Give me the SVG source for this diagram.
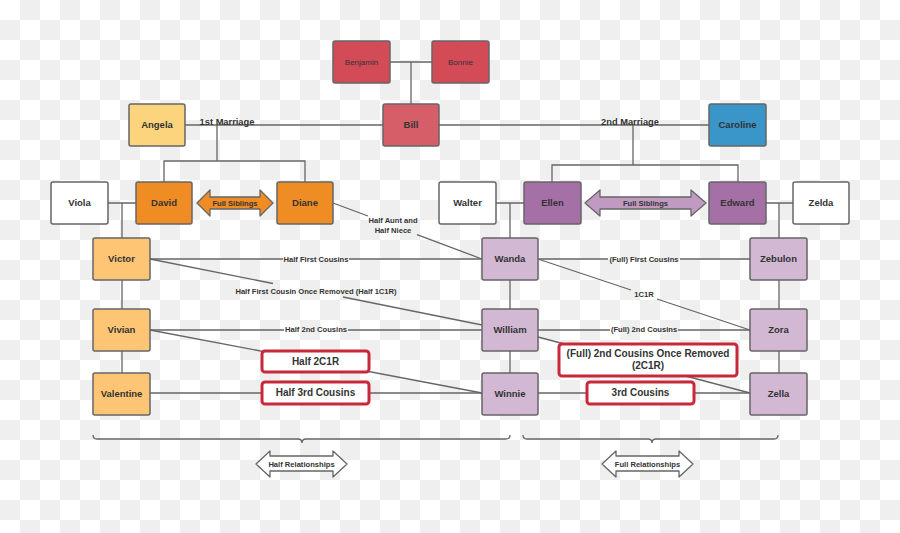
<svg xmlns="http://www.w3.org/2000/svg" width="900" height="533" viewBox="0 0 900 533">
<defs>
<pattern id="chk" x="0" y="0" width="40" height="40" patternUnits="userSpaceOnUse">
<rect width="40" height="40" fill="#ffffff"/>
<rect x="20" y="0" width="20" height="20" fill="#efefef"/>
<rect x="0" y="20" width="20" height="20" fill="#efefef"/>
</pattern>
<style>
.n{stroke:#666;stroke-width:1.5}
.t{font-family:"Liberation Sans",Arial,sans-serif;font-weight:bold;font-size:9.5px;fill:#333;text-anchor:middle}
.s{font-family:"Liberation Sans",Arial,sans-serif;font-size:8px;fill:#333;text-anchor:middle}
.l{font-family:"Liberation Sans",Arial,sans-serif;font-weight:bold;font-size:7.6px;fill:#333;text-anchor:middle}
.b{font-family:"Liberation Sans",Arial,sans-serif;font-weight:bold;font-size:10px;fill:#333;text-anchor:middle}
.c{fill:none;stroke:#666;stroke-width:1.3}
.rb{fill:#fff;stroke:#c8283a;stroke-width:3}
.red{fill:#d24b57}.bill{fill:#d65e68}.ang{fill:#fcd47e}.car{fill:#3a95c9}.org{fill:#ef8d24}.lor{fill:#fec575}.pur{fill:#a570a6}.lpu{fill:#d2b8d2}.wh{fill:#fff}
</style>
</defs>
<rect width="900" height="533" fill="url(#chk)"/>

<g id="connectors">
<path class="c" d="M390,62H432M411,62V104"/>
<path class="c" d="M185,125H709"/>
<path class="c" d="M217,125V161M164,182V161H305V182"/>
<path class="c" d="M633,125V165M552,182V165H738V182"/>
<path class="c" d="M108,203H136M122,203V238M122,280V309M122,351V373"/>
<path class="c" d="M496,203H524M510,203V238M510,280V309M510,351V373"/>
<path class="c" d="M766,203H793M779,203V238M779,280V309M779,351V373"/>
<path class="c" d="M333,203L368,216M417,234.6L482,259"/>
<path class="c" d="M150,259H283M349,259H482"/>
<path class="c" d="M150,259L273,283.5M343,297L482,325"/>
<path class="c" d="M538,259H608M680,259H750"/>
<path class="c" d="M538,259L631,290M657,299L750,330"/>
<path class="c" d="M150,330H284M348,330H482"/>
<path class="c" d="M538,330H610M678,330H750"/>
<path class="c" d="M150,330L482,393"/>
<path class="c" d="M150,393H482"/>
<path class="c" d="M538,337L750,393"/>
<path class="c" d="M538,393H750"/>
<path class="c" d="M93,435Q93,439 97,439H298Q302,439 302,443Q302,439 306,439H506Q510,439 510,435"/>
<path class="c" d="M523,435Q523,439 527,439H648Q652,439 652,443Q652,439 656,439H774Q778,439 778,435"/>
</g>

<g id="labels">
<text class="b" x="227" y="124.5" style="font-size:9.3px">1st Marriage</text>
<text class="b" x="630" y="124.5" style="font-size:9.3px">2nd Marriage</text>
<text class="l" x="393" y="222.5">Half Aunt and</text>
<text class="l" x="393" y="232.5">Half Niece</text>
<text class="l" x="316" y="261.7">Half First Cousins</text>
<text class="l" x="316" y="293.7">Half First Cousin Once Removed (Half 1C1R)</text>
<text class="l" x="644" y="261.7">(Full) First Cousins</text>
<text class="l" x="644" y="296.7">1C1R</text>
<text class="l" x="316" y="331.7">Half 2nd Cousins</text>
<text class="l" x="644" y="331.7">(Full) 2nd Cousins</text>
</g>

<g id="rel-half-2c1r"><rect class="rb" x="262" y="351" width="107" height="21" rx="3"/><text class="b" x="315.5" y="365">Half 2C1R</text></g>
<g id="rel-half-3rd"><rect class="rb" x="262" y="382" width="107" height="22" rx="3"/><text class="b" x="315.5" y="396">Half 3rd Cousins</text></g>
<g id="rel-2c1r"><rect class="rb" x="559" y="344" width="178" height="32" rx="3"/><text class="b" x="648" y="356.5">(Full) 2nd Cousins Once Removed</text><text class="b" x="648" y="368.5">(2C1R)</text></g>
<g id="rel-3rd"><rect class="rb" x="587" y="382" width="107" height="22" rx="3"/><text class="b" x="640.5" y="396">3rd Cousins</text></g>

<g id="sib-left"><path d="M197,203L210,190V197H260V190L273,203L260,216V209H210V216Z" fill="#ef8d24" stroke="#666" stroke-width="1.3" stroke-linejoin="round"/><text class="l" x="235" y="205.7">Full Siblings</text></g>
<g id="sib-right"><path d="M585,203L600,190V197H691V190L706,203L691,216V209H600V216Z" fill="#c09ac1" stroke="#666" stroke-width="1.3" stroke-linejoin="round"/><text class="l" x="645.5" y="205.7">Full Siblings</text></g>
<g id="half-rel"><path d="M256,464L270,451V456H333V451L347,464L333,477V471H270V477Z" fill="#fff" stroke="#666" stroke-width="1.3" stroke-linejoin="round"/><text class="l" x="301.5" y="466.7">Half Relationships</text></g>
<g id="full-rel"><path d="M602,464L616,451V456H679V451L693,464L679,477V471H616V477Z" fill="#fff" stroke="#666" stroke-width="1.3" stroke-linejoin="round"/><text class="l" x="647.5" y="466.7">Full Relationships</text></g>

<g id="benjamin"><rect class="n red" x="333" y="41" width="57" height="42" rx="2"/><text class="s" x="361.5" y="64.8">Benjamin</text></g>
<g id="bonnie"><rect class="n red" x="432" y="41" width="57" height="42" rx="2"/><text class="s" x="460.5" y="64.8">Bonnie</text></g>
<g id="bill"><rect class="n bill" x="383" y="104" width="56" height="42" rx="2"/><text class="t" x="411" y="128.3">Bill</text></g>
<g id="angela"><rect class="n ang" x="129" y="104" width="56" height="42" rx="2"/><text class="t" x="157" y="128.3">Angela</text></g>
<g id="caroline"><rect class="n car" x="709" y="104" width="57" height="42" rx="2"/><text class="t" x="737.5" y="128.3">Caroline</text></g>

<g id="viola"><rect class="n wh" x="51" y="182" width="57" height="42" rx="2"/><text class="t" x="79.5" y="206.3">Viola</text></g>
<g id="david"><rect class="n org" x="136" y="182" width="56" height="42" rx="2"/><text class="t" x="164" y="206.3">David</text></g>
<g id="diane"><rect class="n org" x="277" y="182" width="56" height="42" rx="2"/><text class="t" x="305" y="206.3">Diane</text></g>
<g id="walter"><rect class="n wh" x="439" y="182" width="57" height="42" rx="2"/><text class="t" x="467.5" y="206.3">Walter</text></g>
<g id="ellen"><rect class="n pur" x="524" y="182" width="57" height="42" rx="2"/><text class="t" x="552.5" y="206.3">Ellen</text></g>
<g id="edward"><rect class="n pur" x="709" y="182" width="57" height="42" rx="2"/><text class="t" x="737.5" y="206.3">Edward</text></g>
<g id="zelda"><rect class="n wh" x="793" y="182" width="56" height="42" rx="2"/><text class="t" x="821" y="206.3">Zelda</text></g>

<g id="victor"><rect class="n lor" x="93" y="238" width="57" height="42" rx="2"/><text class="t" x="121.5" y="262.3">Victor</text></g>
<g id="vivian"><rect class="n lor" x="93" y="309" width="57" height="42" rx="2"/><text class="t" x="121.5" y="333.3">Vivian</text></g>
<g id="valentine"><rect class="n lor" x="93" y="373" width="57" height="42" rx="2"/><text class="t" x="121.5" y="397.3">Valentine</text></g>

<g id="wanda"><rect class="n lpu" x="482" y="238" width="56" height="42" rx="2"/><text class="t" x="510" y="262.3">Wanda</text></g>
<g id="william"><rect class="n lpu" x="482" y="309" width="56" height="42" rx="2"/><text class="t" x="510" y="333.3">William</text></g>
<g id="winnie"><rect class="n lpu" x="482" y="373" width="56" height="42" rx="2"/><text class="t" x="510" y="397.3">Winnie</text></g>

<g id="zebulon"><rect class="n lpu" x="750" y="238" width="57" height="42" rx="2"/><text class="t" x="778.5" y="262.3">Zebulon</text></g>
<g id="zora"><rect class="n lpu" x="750" y="309" width="57" height="42" rx="2"/><text class="t" x="778.5" y="333.3">Zora</text></g>
<g id="zella"><rect class="n lpu" x="750" y="373" width="57" height="42" rx="2"/><text class="t" x="778.5" y="397.3">Zella</text></g>
</svg>
